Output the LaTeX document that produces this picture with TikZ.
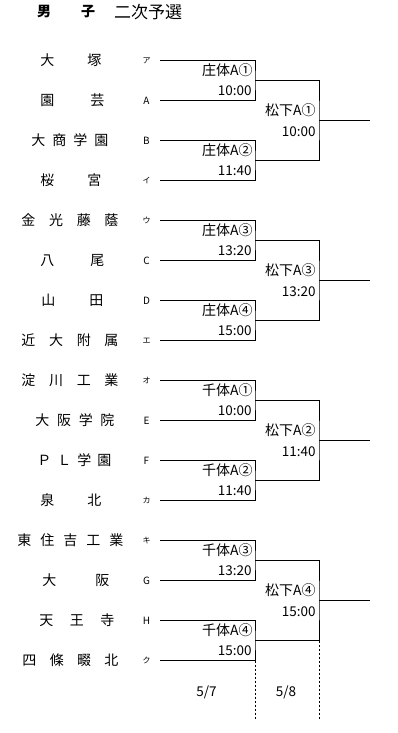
\documentclass[tikz,border=0pt]{standalone}
\usepackage{fontspec}
\setmainfont{Noto Sans CJK JP}
\usetikzlibrary{positioning}
\newcommand\kana{\fontsize{8}{8}\selectfont}

\begin{document}
\begin{tikzpicture}[x=1pt,y=-1pt,line width=0.9pt,
 team/.style={inner sep=0pt,anchor=west,font=\fontsize{14}{14}\selectfont},
 seed/.style={inner sep=0pt,font=\fontsize{10}{10}\selectfont},
 match/.style={inner sep=0pt,anchor=east,font=\fontsize{14}{14}\selectfont},
 clock/.style={inner sep=0pt,anchor=east,font=\fontsize{13.5}{13.5}\selectfont},
 day/.style={inner sep=0pt,font=\fontsize{13.5}{13.5}\selectfont},
 dateline/.style={dash pattern=on 2pt off 2pt}]
\useasboundingbox (0,0) rectangle (398,733);
% title
\node[inner sep=0pt,font=\fontsize{14}{14}\selectfont\bfseries] (sexA) at (44,12) {男};
\node[inner sep=0pt,font=\fontsize{14}{14}\selectfont\bfseries] (sexB) at (88,12) {子};
\node[inner sep=0pt,font=\fontsize{17}{17}\selectfont] (stage) at (148,12.5) {二次予選};
% teams and seeds
\foreach \i/\xl/\ww/\nm/\sd in {
 1/40/61/大\hfill 塚/{\kana ア}, 2/40/64/園\hfill 芸/A, 3/31/77/大\hfill 商\hfill 学\hfill 園/B, 4/40/61/桜\hfill 宮/{\kana イ},
 5/21/97/金\hfill 光\hfill 藤\hfill 蔭/{\kana ウ}, 6/40/64/八\hfill 尾/C, 7/41/62/山\hfill 田/D, 8/21/97/近\hfill 大\hfill 附\hfill 属/{\kana エ},
 9/21/97/淀\hfill 川\hfill 工\hfill 業/{\kana オ}, 10/35/79/大\hfill 阪\hfill 学\hfill 院/E, 11/37/74/Ｐ\hfill Ｌ\hfill 学\hfill 園/F, 12/40/61/泉\hfill 北/{\kana カ},
 13/17/106/東\hfill 住\hfill 吉\hfill 工\hfill 業/{\kana キ}, 14/42/67/大\hfill 阪/G, 15/39/75/天\hfill 王\hfill 寺/H, 16/22/96/四\hfill 條\hfill 畷\hfill 北/{\kana ク}}
{
 \node[team] (n\i) at (\xl,20.5+40*\i) {\makebox[\ww pt]{\nm}};
 \node[seed] (s\i) at (146.5,20.5+40*\i) {\sd};
 \coordinate (e\i) at (160,20.5+40*\i);
}
% first round
\foreach \j/\lb/\tm [evaluate=\j as \ta using int(2*\j-1), evaluate=\j as \tb using int(2*\j)] in {
 1/庄体A①/10:00, 2/庄体A②/11:40, 3/庄体A③/13:20, 4/庄体A④/15:00,
 5/千体A①/10:00, 6/千体A②/11:40, 7/千体A③/13:20, 8/千体A④/15:00}
{
 \coordinate (r\j) at (255,0.5+80*\j);
 \draw (e\ta) -| (r\j) |- (e\tb);
 \node[match] (m\j) at (253,80*\j-9.5) {\lb};
 \node[clock] (c\j) at (252,80*\j+10.5) {\tm};
}
% second round
\foreach \k/\lb/\tm [evaluate=\k as \ja using int(2*\k-1), evaluate=\k as \jb using int(2*\k)] in {
 1/松下A①/10:00, 2/松下A③/13:20, 3/松下A②/11:40, 4/松下A④/15:00}
{
 \coordinate (q\k) at (319,160*\k-39.5);
 \coordinate (w\k) at (370,160*\k-39.5);
 \draw (r\ja) -| (q\k) |- (r\jb);
 \draw (q\k) -- (w\k);
 \node[match] (p\k) at (316,160*\k-49.5) {\lb};
 \node[clock] (t\k) at (316,160*\k-28.5) {\tm};
}
% dates
\coordinate (d1) at (255,719);
\coordinate (d2) at (319,719);
\draw[dateline] (e16 -| r8) -- (d1);
\draw[dateline] (r8 -| q4) -- (d2);
\node[day] (day1) at (206.5,692) {5/7};
\node[day] (day2) at (286,692) {5/8};
\end{tikzpicture}
\end{document}
